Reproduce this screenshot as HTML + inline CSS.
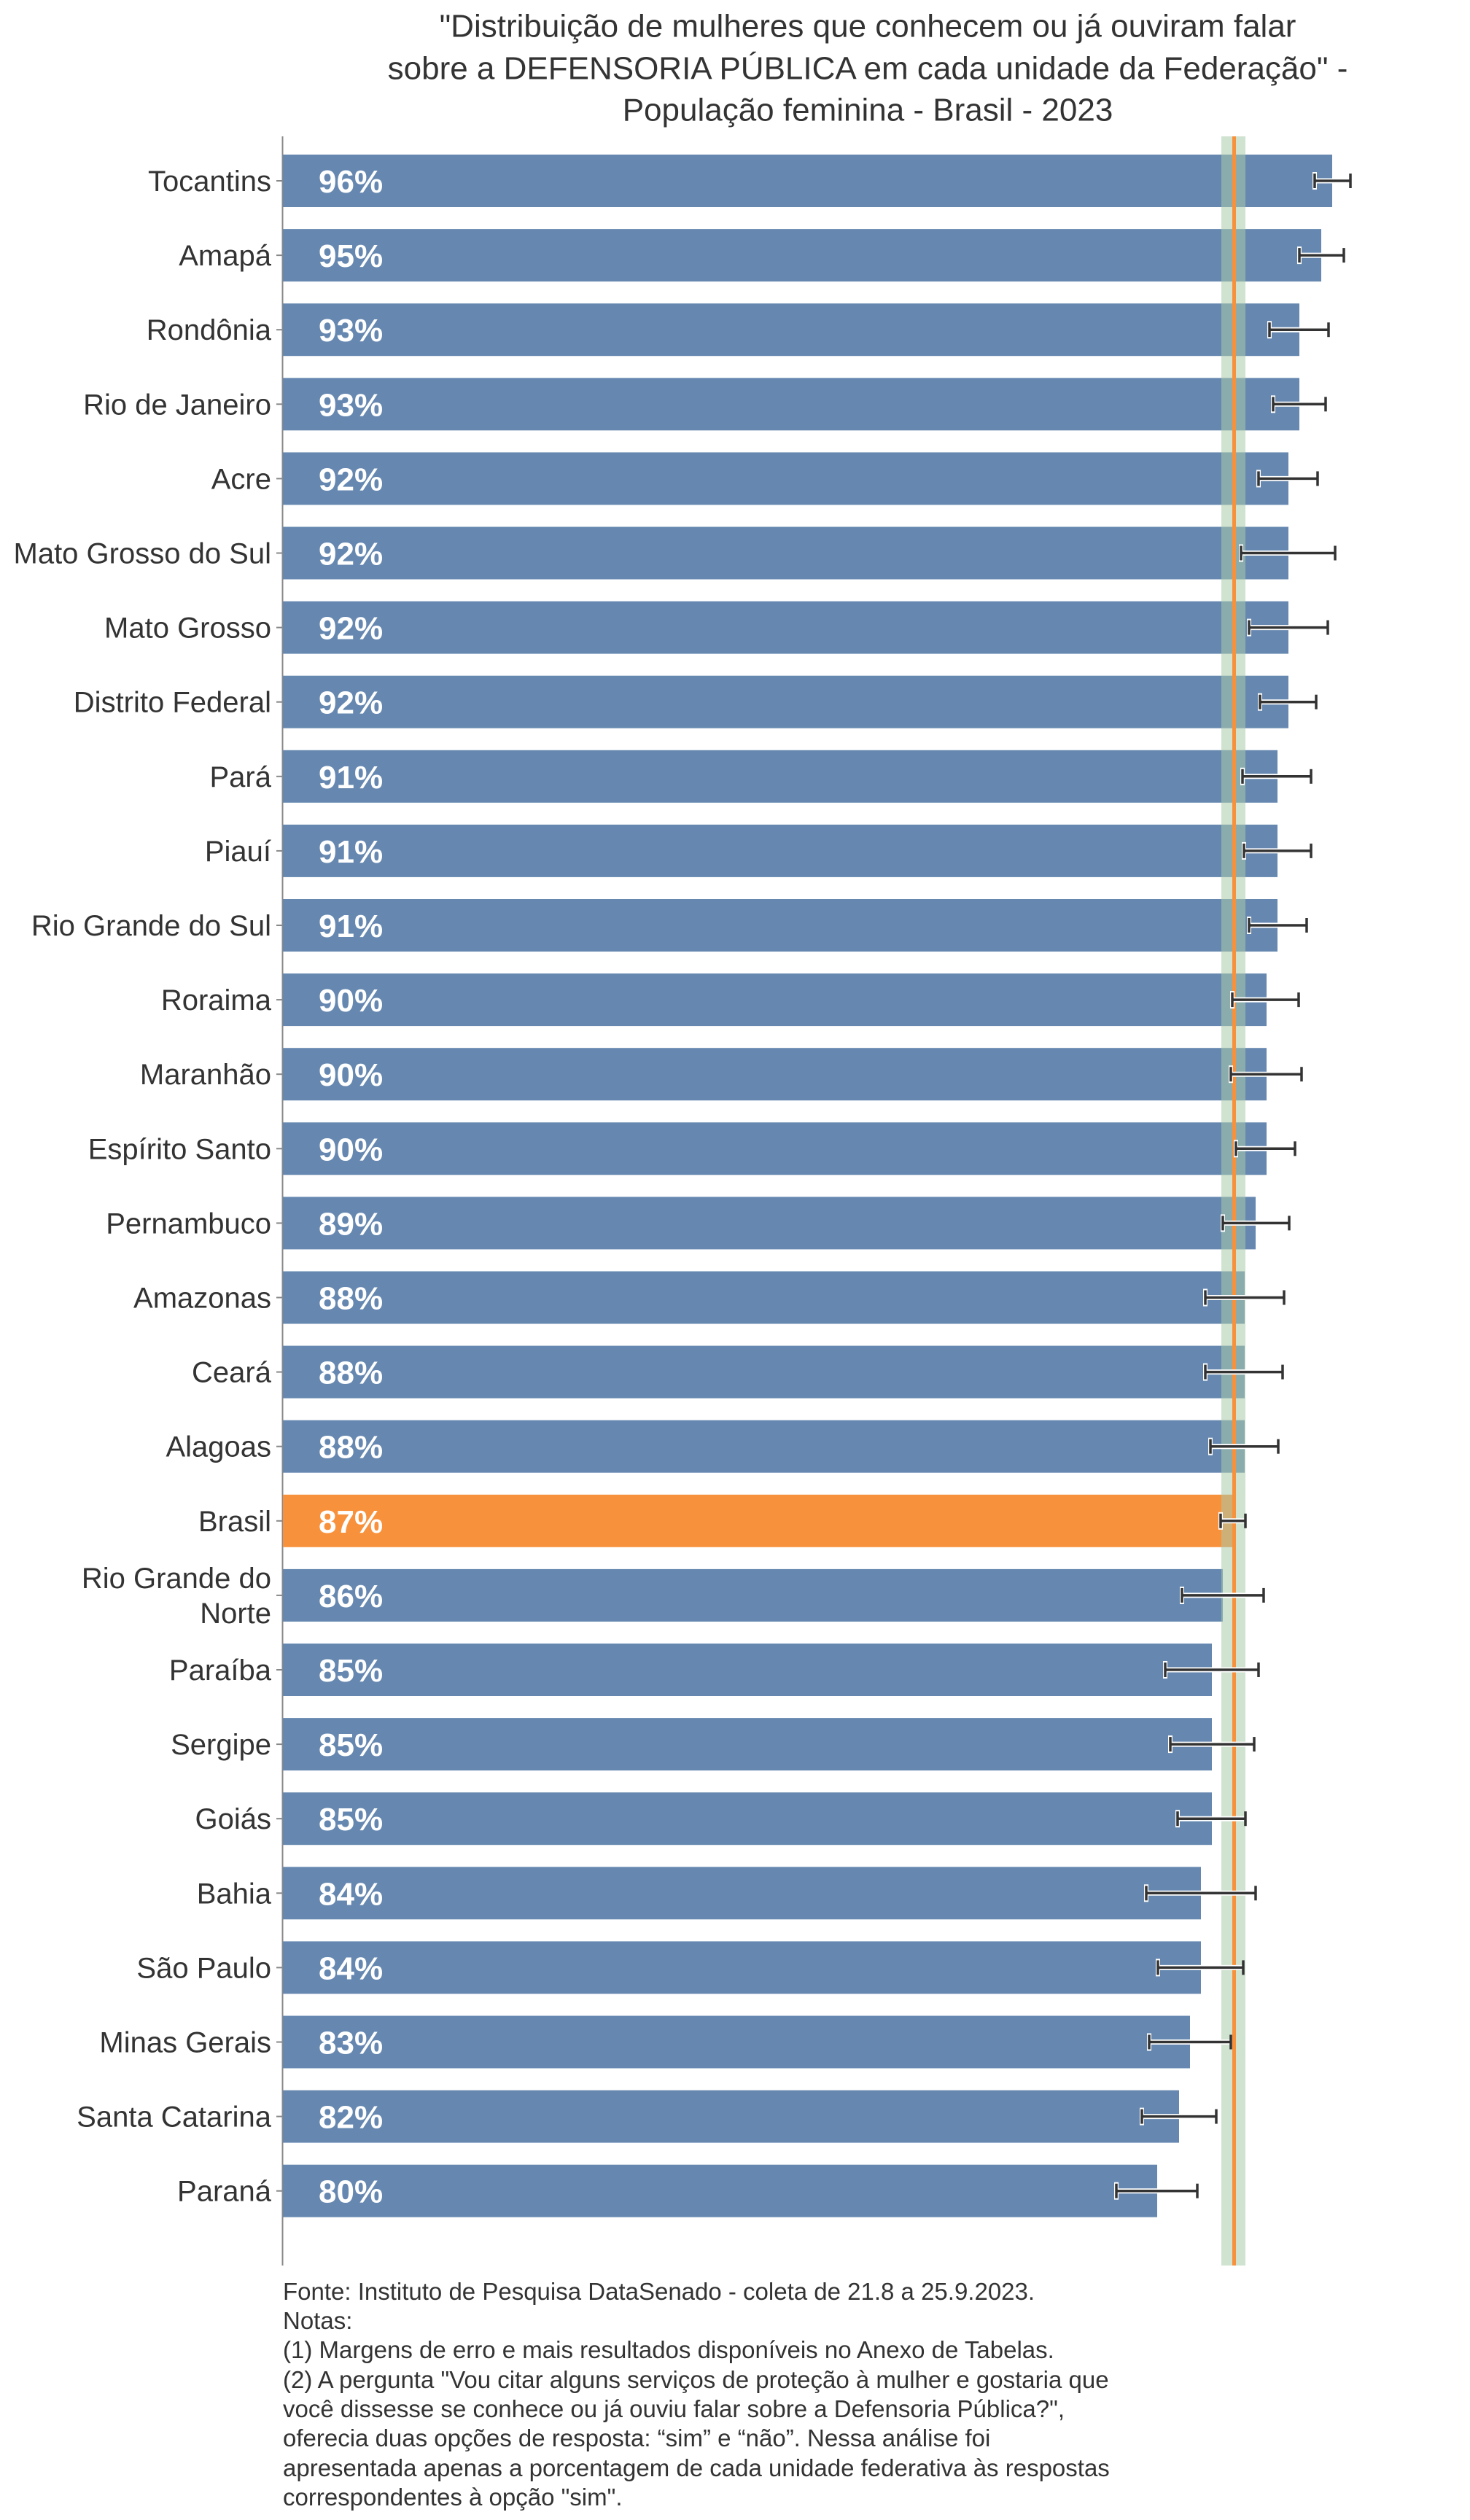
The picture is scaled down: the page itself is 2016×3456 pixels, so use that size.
<!DOCTYPE html>
<html><head><meta charset="utf-8"><style>
html,body{margin:0;padding:0;background:#fff;}
svg{display:block;}
text{font-family:"Liberation Sans",sans-serif;}
</style></head><body>
<svg width="2016" height="3456" viewBox="0 0 2016 3456" xmlns="http://www.w3.org/2000/svg">
<g fill="#333" font-size="44" text-anchor="middle">
<text x="1190" y="36" dominant-baseline="central">"Distribuição de mulheres que conhecem ou já ouviram falar</text>
<text x="1190" y="94" dominant-baseline="central">sobre a DEFENSORIA PÚBLICA em cada unidade da Federação" -</text>
<text x="1190" y="151" dominant-baseline="central">População feminina - Brasil - 2023</text>
</g>
<line x1="387.5" y1="187" x2="387.5" y2="3107" stroke="#888" stroke-width="2"/>
<g id="bars"></g>
<rect x="1675" y="187" width="33" height="2920" fill="#a9cba9" fill-opacity="0.55"/>
<rect x="1690" y="187" width="5" height="2920" fill="#f8913c"/>
<g id="err"></g>
<g id="lab"></g>
<g fill="#333" font-size="33">
<text x="388" y="3154">Fonte: Instituto de Pesquisa DataSenado - coleta de 21.8 a 25.9.2023.</text>
<text x="388" y="3194">Notas:</text>
<text x="388" y="3234">(1) Margens de erro e mais resultados disponíveis no Anexo de Tabelas.</text>
<text x="388" y="3275">(2) A pergunta "Vou citar alguns serviços de proteção à mulher e gostaria que</text>
<text x="388" y="3315">você dissesse se conhece ou já ouviu falar sobre a Defensoria Pública?",</text>
<text x="388" y="3355">oferecia duas opções de resposta: “sim” e “não”. Nessa análise foi</text>
<text x="388" y="3396">apresentada apenas a porcentagem de cada unidade federativa às respostas</text>
<text x="388" y="3436">correspondentes à opção "sim".</text>
</g>
</svg>
<script>
var d=[["Tocantins",96,1827,1803,1852],["Amapá",95,1812,1782,1843],["Rondônia",93,1782,1741,1822],["Rio de Janeiro",93,1782,1746,1818],["Acre",92,1767,1726,1807],["Mato Grosso do Sul",92,1767,1702,1831],["Mato Grosso",92,1767,1713,1821],["Distrito Federal",92,1767,1728,1805],["Pará",91,1752,1704,1798],["Piauí",91,1752,1706,1798],["Rio Grande do Sul",91,1752,1713,1792],["Roraima",90,1737,1690,1781],["Maranhão",90,1737,1688,1785],["Espírito Santo",90,1737,1695,1776],["Pernambuco",89,1722,1677,1768],["Amazonas",88,1707,1653,1761],["Ceará",88,1707,1653,1759],["Alagoas",88,1707,1660,1753],["Brasil",87,1690,1674,1708],["Rio Grande do|Norte",86,1677,1621,1733],["Paraíba",85,1662,1598,1726],["Sergipe",85,1662,1605,1720],["Goiás",85,1662,1615,1708],["Bahia",84,1647,1572,1722],["São Paulo",84,1647,1588,1705],["Minas Gerais",83,1632,1576,1688],["Santa Catarina",82,1617,1566,1668],["Paraná",80,1587,1531,1642]];
var NS="http://www.w3.org/2000/svg";
function el(p,t,a,tx){var e=document.createElementNS(NS,t);for(var k in a)e.setAttribute(k,a[k]);if(tx)e.textContent=tx;document.getElementById(p).appendChild(e);}
d.forEach(function(r,i){
 var cy=248+102.1*i;
 el("bars","rect",{x:388,y:cy-36,width:r[2]-388,height:72,fill:r[0]=="Brasil"?"#f8913c":"#6688b0"});
 el("lab","text",{x:437,y:cy+16,fill:"#fff","font-size":44,"font-weight":"bold"},r[1]+"%");
 el("lab","line",{x1:379,y1:cy,x2:387,y2:cy,stroke:"#888","stroke-width":2});
 var p=r[0].split("|");
 if(p.length==1) el("lab","text",{x:372,y:cy+14,fill:"#333","font-size":40,"text-anchor":"end"},p[0]);
 else {el("lab","text",{x:372,y:cy-10,fill:"#333","font-size":40,"text-anchor":"end"},p[0]);el("lab","text",{x:372,y:cy+38,fill:"#333","font-size":40,"text-anchor":"end"},p[1]);}
 el("err","line",{x1:r[3],y1:cy,x2:r[4],y2:cy,stroke:"#fff","stroke-width":7});
 el("err","rect",{x:r[3]-3,y:cy-12,width:6,height:24,fill:"#fff"});
 el("err","line",{x1:r[3],y1:cy,x2:r[4],y2:cy,stroke:"#333","stroke-width":3.5});
 el("err","line",{x1:r[3],y1:cy-10,x2:r[3],y2:cy+10,stroke:"#333","stroke-width":3.5});
 el("err","line",{x1:r[4],y1:cy-10,x2:r[4],y2:cy+10,stroke:"#333","stroke-width":3.5});
});
</script>
</body></html>
